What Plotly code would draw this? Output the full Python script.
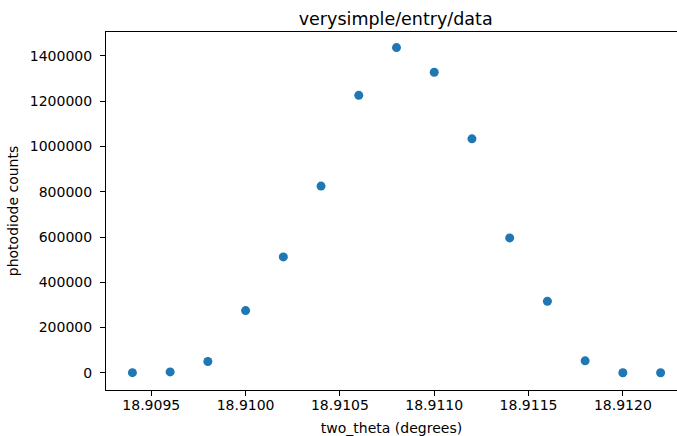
import plotly.graph_objects as go

two_theta = [18.9094, 18.9096, 18.9098, 18.9100, 18.9102, 18.9104, 18.9106, 18.9108,
             18.9110, 18.9112, 18.9114, 18.9116, 18.9118, 18.9120, 18.9122]
counts = [500, 4000, 50000, 275000, 512000, 825000, 1226000, 1437000,
          1328000, 1034000, 596000, 316000, 53000, 0, 0]

title_text = "verysimple/entry/data"
x_label = "two_theta (degrees)"
y_label = "photodiode counts"

font_family = "DejaVu Sans"

fig = go.Figure()
fig.add_trace(go.Scatter(
    x=two_theta, y=counts, mode="markers",
    marker=dict(color="#1f77b4", size=9, line=dict(width=0)),
    showlegend=False,
))

W, H = 677, 436
L, T = 105.5, 32
B = H - 390

fig.update_layout(
    width=W, height=H,
    margin=dict(l=L, r=0, t=T, b=B, pad=0),
    paper_bgcolor="white", plot_bgcolor="white",
    font=dict(family=font_family, size=14, color="black"),
    title=dict(text=title_text, font=dict(size=17.5, color="black"),
               xref="container", x=395.7 / W, xanchor="center",
               yref="container", y=1 - 18.5 / H, yanchor="middle"),
)

fig.update_xaxes(
    range=[18.90926, 18.912287],
    tickmode="linear", tick0=18.9095, dtick=0.0005, tickformat=".4f",
    showgrid=False, zeroline=False,
    showline=True, linecolor="black", linewidth=1.1, mirror=True,
    ticks="outside", ticklen=5, tickwidth=1, tickcolor="black",
    tickfont=dict(size=14, color="black"), ticklabelstandoff=-3,
    title=dict(text=x_label, font=dict(size=14, color="black"), standoff=11),
    automargin=False,
)
fig.update_yaxes(
    range=[-76000, 1506000],
    tickmode="linear", tick0=0, dtick=200000, tickformat="d",
    showgrid=False, zeroline=False,
    showline=True, linecolor="black", linewidth=1.1, mirror=False,
    ticks="outside", ticklen=5, tickwidth=1, tickcolor="black",
    tickfont=dict(size=14, color="black"), ticklabelstandoff=5,
    title=dict(text=y_label, font=dict(size=14, color="black"), standoff=7),
    automargin=False,
)

fig.write_html(
    "out.html",
    config={"displayModeBar": False},
    post_script="document.body.style.margin='0px';document.body.style.overflow='hidden';",
)
